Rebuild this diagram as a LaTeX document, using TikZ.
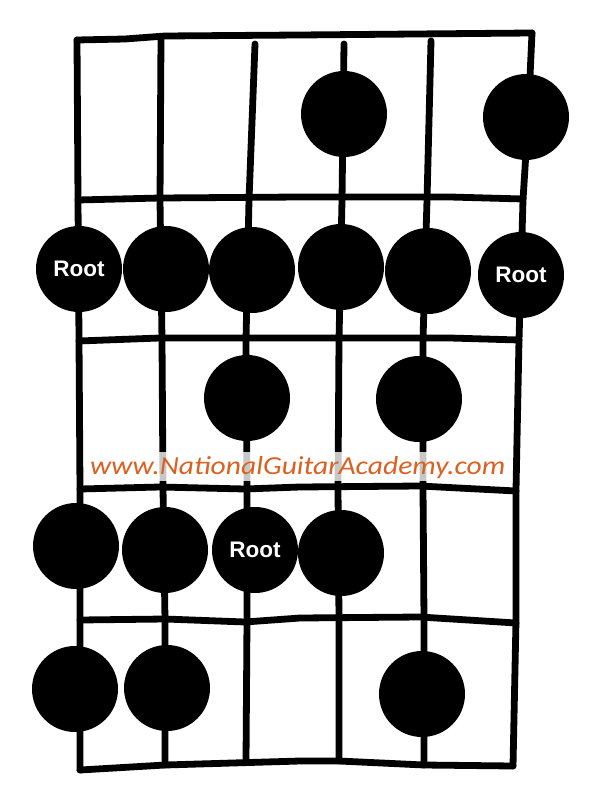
\documentclass[tikz,border=0pt]{standalone}
\usepackage{fontspec}
\newfontfamily\rootfont{Liberation Sans}
\newfontfamily\wmfont{Carlito}
\definecolor{ngaorange}{RGB}{219,97,33}
\begin{document}
\begin{tikzpicture}[x=1pt,y=-1pt,
  pen/.style={line width=6.8pt, line cap=round, line join=round, draw=black},
  dot/.style={circle, fill=black, minimum size=86pt, inner sep=0pt, text=white,
              font=\rootfont\bfseries\fontsize{22.5}{24}\selectfont}]
\useasboundingbox (0,0) rectangle (600,794);
\fill[white] (0,0) rectangle (600,794);
% corners and string ends
\coordinate (tl) at (77,40);
\coordinate (tr) at (532,33);
\coordinate (bl) at (80,770);
\coordinate (br) at (513,766);
\coordinate (t2) at (161,38);
\coordinate (t3) at (255,44);
\coordinate (t4) at (344,44);
\coordinate (t5) at (431,41);
\coordinate (b2) at (165,765);
\coordinate (b3) at (246,762);
\coordinate (b4) at (339,761);
\coordinate (b5) at (424,765);
% strings
\draw[pen] (tl) -- (78,200) -- (79,340) -- (80,490) -- (bl);
\draw[pen] (t2) -- (160,200) -- (162,340) -- (163,488) -- (165,620) -- (b2);
\draw[pen] (t3) -- (249,200) -- (246,340) -- (247,488) -- (247,620) -- (b3);
\draw[pen] (t4) -- (342,200) -- (339,340) -- (338,488) -- (339,620) -- (b4);
\draw[pen] (t5) -- (427,200) -- (423,340) -- (423,488) -- (424,620) -- (b5);
\draw[pen] (tr) -- (528,120) -- (523,200) -- (519,340) -- (516,490) -- (516,620) -- (br);
% frets
\draw[pen] (tl) -- (125,39) -- (165,36) -- (300,35) -- (tr);
\draw[pen] (78,200) -- (160,198) -- (300,197) -- (450,197) -- (523,199);
\draw[pen] (79,341) -- (160,338) -- (300,338) -- (450,338) -- (519,340);
\draw[pen] (80,489) -- (160,487) -- (245,489) -- (300,487) -- (420,486) -- (516,491);
\draw[pen] (80,620) -- (165,619) -- (245,622) -- (300,618) -- (420,617) -- (516,623);
\draw[pen] (bl) -- (b2) -- (300,761) -- (b4) -- (b5) -- (br);
% dots
\node[dot] (d14) at (344,114) {};
\node[dot] (d16) at (526,117) {};
\node[dot] (d21) at (79,269) {Root};
\node[dot] (d22) at (166,269) {};
\node[dot] (d23) at (252,270) {};
\node[dot] (d24) at (341,267) {};
\node[dot] (d25) at (428,271) {};
\node[dot] (d26) at (521,275) {Root};
\node[dot] (d33) at (247,398) {};
\node[dot] (d35) at (419,399) {};
\node[dot] (d41) at (76,546) {};
\node[dot] (d42) at (165,550) {};
\node[dot] (d43) at (255,550) {Root};
\node[dot] (d44) at (341,553) {};
\node[dot] (d51) at (75,689) {};
\node[dot] (d52) at (167,688) {};
\node[dot] (d55) at (422,694) {};
% watermark
\fill[white, opacity=0.78] (88,452) rectangle (508,481);
\node[anchor=base west, inner sep=0pt, text=ngaorange] (wm) at (90,474)
  {\resizebox{415pt}{18pt}{\wmfont\itshape www.NationalGuitarAcademy.com}};
\end{tikzpicture}
\end{document}
